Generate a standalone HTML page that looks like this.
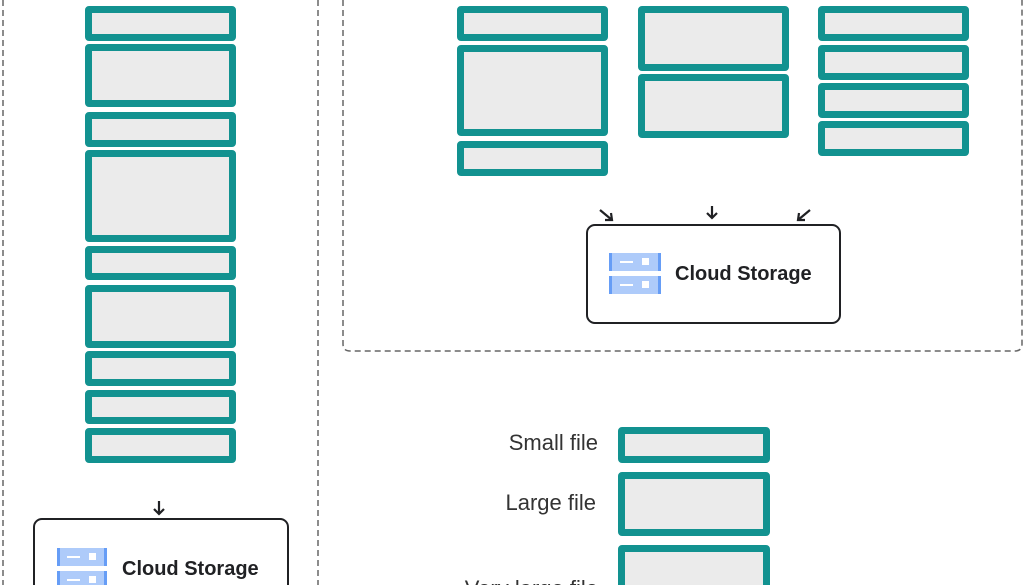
<!DOCTYPE html>
<html style="overflow:hidden;width:1024px;height:585px"><head><meta charset="utf-8"><style>
body{margin:0;width:1024px;height:585px;overflow:hidden;background:#fff;position:relative;font-family:"Liberation Sans",sans-serif}
.b{position:absolute;box-sizing:border-box;border:7px solid #129290;background:#ebebeb;border-radius:4px}
.cs{position:absolute;box-sizing:border-box;border:2px solid #202124;border-radius:9px;background:transparent}
.t{position:absolute;font-weight:bold;font-size:20px;color:#202124;white-space:nowrap}
.l{position:absolute;font-size:22px;color:#333;white-space:nowrap;text-align:right;width:200px}
svg{position:absolute;left:0;top:0}
</style></head><body>
<svg width="1024" height="585">
<g fill="none" stroke="#666" stroke-width="1.5" stroke-dasharray="6,4">
<line x1="3" y1="0" x2="3" y2="585"/>
<line x1="318" y1="0" x2="318" y2="585"/>
<path d="M343 0 V344 Q343 351 350 351 H1015 Q1022 351 1022 344 V0"/>
</g>
<g stroke="#202124" stroke-width="2.2" fill="none">
<path d="M159 501 V514 M154 509 L159 514 L164 509"/>
<path d="M712 206 V218 M707 213 L712 218 L717 213"/>
<path d="M600 210 L612 220 M605 220 L612 220 L611 213"/>
<path d="M810 210 L798 220 M805 220 L798 220 L799 213"/>
</g>
<g>
<rect x="609" y="253" width="52" height="18" fill="#aecbfa"/><rect x="609" y="253" width="3" height="18" fill="#669df6"/><rect x="658" y="253" width="3" height="18" fill="#669df6"/>
<rect x="620" y="261" width="13" height="2" fill="#fff"/><rect x="642" y="258" width="7" height="7" fill="#fff"/>
<rect x="609" y="276" width="52" height="18" fill="#aecbfa"/><rect x="609" y="276" width="3" height="18" fill="#669df6"/><rect x="658" y="276" width="3" height="18" fill="#669df6"/>
<rect x="620" y="284" width="13" height="2" fill="#fff"/><rect x="642" y="281" width="7" height="7" fill="#fff"/>
<rect x="57" y="548" width="50" height="18" fill="#aecbfa"/><rect x="57" y="548" width="3" height="18" fill="#669df6"/><rect x="104" y="548" width="3" height="18" fill="#669df6"/>
<rect x="67" y="556" width="13" height="2" fill="#fff"/><rect x="89" y="553" width="7" height="7" fill="#fff"/>
<rect x="57" y="571" width="50" height="18" fill="#aecbfa"/><rect x="57" y="571" width="3" height="18" fill="#669df6"/><rect x="104" y="571" width="3" height="18" fill="#669df6"/>
<rect x="67" y="579" width="13" height="2" fill="#fff"/><rect x="89" y="576" width="7" height="7" fill="#fff"/>
</g>
</svg>
<div class="b" style="left:85px;top:6px;width:151px;height:35px"></div>
<div class="b" style="left:85px;top:44px;width:151px;height:63px"></div>
<div class="b" style="left:85px;top:112px;width:151px;height:35px"></div>
<div class="b" style="left:85px;top:150px;width:151px;height:92px"></div>
<div class="b" style="left:85px;top:246px;width:151px;height:34px"></div>
<div class="b" style="left:85px;top:285px;width:151px;height:63px"></div>
<div class="b" style="left:85px;top:351px;width:151px;height:35px"></div>
<div class="b" style="left:85px;top:390px;width:151px;height:34px"></div>
<div class="b" style="left:85px;top:428px;width:151px;height:35px"></div>

<div class="b" style="left:457px;top:6px;width:151px;height:35px"></div>
<div class="b" style="left:457px;top:45px;width:151px;height:91px"></div>
<div class="b" style="left:457px;top:141px;width:151px;height:35px"></div>
<div class="b" style="left:638px;top:6px;width:151px;height:65px"></div>
<div class="b" style="left:638px;top:74px;width:151px;height:64px"></div>
<div class="b" style="left:818px;top:6px;width:151px;height:35px"></div>
<div class="b" style="left:818px;top:45px;width:151px;height:35px"></div>
<div class="b" style="left:818px;top:83px;width:151px;height:35px"></div>
<div class="b" style="left:818px;top:121px;width:151px;height:35px"></div>

<div class="cs" style="left:586px;top:224px;width:255px;height:100px"></div>
<div class="t" style="left:675px;top:263px">Cloud Storage</div>
<div class="cs" style="left:33px;top:518px;width:256px;height:100px"></div>
<div class="t" style="left:122px;top:558px">Cloud Storage</div>

<div class="l" style="left:398px;top:430px">Small file</div>
<div class="l" style="left:396px;top:490px">Large file</div>
<div class="l" style="left:398px;top:576px">Very large file</div>
<div class="b" style="left:618px;top:427px;width:152px;height:36px"></div>
<div class="b" style="left:618px;top:472px;width:152px;height:64px"></div>
<div class="b" style="left:618px;top:545px;width:152px;height:80px"></div>
</body></html>
